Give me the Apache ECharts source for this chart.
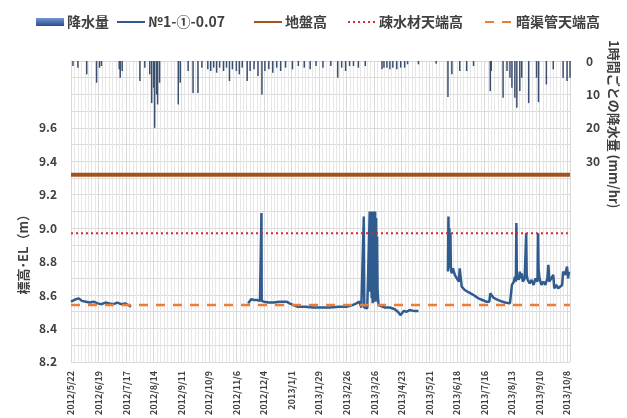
<!DOCTYPE html>
<html>
<head>
<meta charset="utf-8">
<script src="https://cdn.jsdelivr.net/npm/echarts@6/dist/echarts.min.js"></script>
<style>
  html, body { margin: 0; padding: 0; background: #fff; }
  #chart { width: 627px; height: 418px; }
</style>
</head>
<body>
<div id="chart"></div>
<script>
// Observation period and date ticks (every 28 days from the first day)
const startDate = '2012/5/22';
const endDate = '2013/10/11';
const tickStepDays = 28;

// Hourly rainfall peaks (mm/hr)
const rainDates = [
  '2012/5/24', '2012/5/29', '2012/6/7', '2012/6/17', '2012/6/20', '2012/6/22',
  '2012/7/10', '2012/7/11', '2012/7/13', '2012/7/31', '2012/8/5', '2012/8/10',
  '2012/8/12', '2012/8/14', '2012/8/15', '2012/8/17', '2012/8/18', '2012/8/20',
  '2012/9/8', '2012/9/10', '2012/9/18', '2012/9/23', '2012/9/28', '2012/10/2',
  '2012/10/8', '2012/10/11', '2012/10/14', '2012/10/17', '2012/10/20', '2012/10/24',
  '2012/10/27', '2012/10/30', '2012/11/2', '2012/11/6', '2012/11/9', '2012/11/12',
  '2012/11/17', '2012/11/20', '2012/11/24', '2012/11/28', '2012/12/2', '2012/12/5',
  '2012/12/9', '2012/12/13', '2012/12/17', '2012/12/21', '2012/12/26', '2013/1/2',
  '2013/1/8', '2013/1/14', '2013/1/20', '2013/1/26', '2013/2/2', '2013/2/10',
  '2013/2/17', '2013/2/21', '2013/2/25', '2013/3/1', '2013/3/5', '2013/3/10',
  '2013/3/17', '2013/4/3', '2013/4/5', '2013/4/8', '2013/4/11', '2013/4/14',
  '2013/4/18', '2013/4/22', '2013/4/26', '2013/4/29', '2013/5/10', '2013/5/28',
  '2013/6/9', '2013/6/13', '2013/6/21', '2013/6/28', '2013/7/5', '2013/7/22',
  '2013/7/23', '2013/8/4', '2013/8/8', '2013/8/11', '2013/8/13', '2013/8/16',
  '2013/8/18', '2013/8/21', '2013/8/23', '2013/8/30', '2013/9/7', '2013/9/9',
  '2013/9/17', '2013/9/24', '2013/10/4', '2013/10/8', '2013/10/11'
];
const rainValues = [
  1.5, 2, 4, 6.5, 2, 1.5,
  2.5, 5, 3, 6, 2, 4,
  12.6, 8, 20, 10, 13, 6.5,
  13, 6.5, 3, 9.6, 9.6, 2,
  2.5, 3, 2, 3.5, 2, 3,
  2, 6, 2.5, 3, 4, 2,
  6, 3, 2.5, 4.5, 10, 3,
  2.5, 3.5, 2, 3, 2, 2.5,
  1.5, 2, 2.5, 1.5, 2, 1.5,
  5, 2, 3, 1.5, 1.5, 2,
  1.5, 2.5, 2, 2, 2.5, 2,
  2.5, 2, 2, 1, 1, 0.8,
  10.8, 4, 3, 3, 1.5, 9,
  3, 11, 3, 5, 8, 11,
  14, 9, 5, 12.6, 5, 12.3,
  7, 2.5, 5, 6, 5
];

// Groundwater level at observation well No.1-(1)-0.07 (EL m); null marks gaps
const levelDates = [
  '2012/5/22', '2012/5/24', '2012/5/27', '2012/5/30', '2012/6/2', '2012/6/6',
  '2012/6/10', '2012/6/14', '2012/6/18', '2012/6/22', '2012/6/26', '2012/6/30',
  '2012/7/4', '2012/7/8', '2012/7/12', '2012/7/16', '2012/7/19', '2012/7/22',
  '2012/8/1',
  '2012/11/18', '2012/11/21', '2012/11/24', '2012/11/27', '2012/11/30', '2012/12/1 06',
  '2012/12/1 12', '2012/12/1 18', '2012/12/4', '2012/12/9', '2012/12/14', '2012/12/20',
  '2012/12/27', '2012/12/30', '2013/1/3', '2013/1/7', '2013/1/15', '2013/1/23',
  '2013/2/1', '2013/2/9', '2013/2/18', '2013/2/26', '2013/3/4', '2013/3/8',
  '2013/3/11', '2013/3/13', '2013/3/15', '2013/3/15 12', '2013/3/16', '2013/3/19',
  '2013/3/21', '2013/3/21 12', '2013/3/22', '2013/3/23', '2013/3/23 12', '2013/3/24',
  '2013/3/24 12', '2013/3/25', '2013/3/25 12', '2013/3/26', '2013/3/26 12', '2013/3/27',
  '2013/3/27 12', '2013/3/28', '2013/3/28 12', '2013/3/29', '2013/3/29 12', '2013/3/30',
  '2013/3/30 12', '2013/4/1', '2013/4/6', '2013/4/11', '2013/4/16', '2013/4/19',
  '2013/4/22', '2013/4/25', '2013/4/28', '2013/5/1', '2013/5/5', '2013/5/10',
  '2013/5/20',
  '2013/6/9', '2013/6/9 12', '2013/6/10', '2013/6/10 12', '2013/6/11', '2013/6/11 12',
  '2013/6/12', '2013/6/13', '2013/6/14', '2013/6/16', '2013/6/18', '2013/6/20',
  '2013/6/21', '2013/6/22', '2013/6/23', '2013/6/26', '2013/6/28', '2013/7/2',
  '2013/7/5', '2013/7/10', '2013/7/14', '2013/7/18', '2013/7/21', '2013/7/22',
  '2013/7/25', '2013/7/28', '2013/8/1', '2013/8/6', '2013/8/11', '2013/8/13',
  '2013/8/15', '2013/8/16', '2013/8/17', '2013/8/17 12', '2013/8/18', '2013/8/19',
  '2013/8/20', '2013/8/21', '2013/8/22', '2013/8/23', '2013/8/24', '2013/8/26',
  '2013/8/27', '2013/8/27 12', '2013/8/28', '2013/8/29', '2013/8/31', '2013/9/2',
  '2013/9/4', '2013/9/6', '2013/9/8', '2013/9/8 12', '2013/9/9', '2013/9/10',
  '2013/9/12', '2013/9/14', '2013/9/16', '2013/9/18', '2013/9/19', '2013/9/20',
  '2013/9/22', '2013/9/24', '2013/9/25', '2013/9/27', '2013/9/29', '2013/10/1',
  '2013/10/3', '2013/10/4', '2013/10/6', '2013/10/8', '2013/10/9', '2013/10/10'
];
const levelValues = [
  8.56, 8.57, 8.575, 8.58, 8.565, 8.56,
  8.555, 8.56, 8.55, 8.545, 8.555, 8.55,
  8.545, 8.555, 8.545, 8.55, 8.54, 8.53,
  null,
  8.55, 8.575, 8.57, 8.57, 8.565, 8.565,
  9.09, 8.565, 8.56, 8.555, 8.555, 8.56,
  8.56, 8.55, 8.54, 8.53, 8.53, 8.525,
  8.525, 8.525, 8.53, 8.53, 8.54, 8.55,
  8.56, 8.525, 8.525, 9.07, 8.525, 8.52,
  8.53, 9.10, 8.62, 9.10, 8.58, 9.10,
  8.55, 9.08, 8.56, 9.10, 8.60, 9.10,
  8.56, 9.06, 8.57, 8.95, 8.62, 8.62,
  8.54, 8.53, 8.525, 8.525, 8.515, 8.50,
  8.48, 8.505, 8.50, 8.51, 8.505, 8.505,
  null,
  8.74, 9.07, 8.78, 9.00, 8.76, 8.97,
  8.75, 8.73, 8.76, 8.72, 8.70, 8.68,
  8.76, 8.70, 8.65, 8.63, 8.62, 8.61,
  8.60, 8.58, 8.57, 8.56, 8.56, 8.61,
  8.585, 8.575, 8.565, 8.555, 8.55, 8.66,
  8.68, 8.71, 8.68, 9.03, 8.69, 8.72,
  8.69, 8.74, 8.70, 8.73, 8.68, 8.70,
  8.69, 8.97, 8.72, 8.69, 8.67, 8.69,
  8.66, 8.70, 8.68, 8.97, 8.76, 8.70,
  8.66, 8.68, 8.66, 8.70, 8.78, 8.68,
  8.70, 8.72, 8.64, 8.66, 8.64, 8.63,
  8.66, 8.74, 8.72, 8.77, 8.70, 8.74
];

// Reference elevations (EL m)
const groundLevel = 9.32;       // 地盤高
const filterTopLevel = 8.97;    // 疎水材天端高
const drainPipeTopLevel = 8.54; // 暗渠管天端高

// Left and right axis label ranges
const levelAxis = { min: 8.2, max: 10.0, step: 0.2, lastLabel: 9.6 };
const rainAxis = { min: 0, max: 90, step: 10, lastLabel: 30 };

const seriesNames = ['降水量', '№1-①-0.07', '地盤高', '疎水材天端高', '暗渠管天端高'];

// ---- helpers -------------------------------------------------------------
function parseDate(s) {
  const [d, h] = s.split(' ');
  const [y, m, day] = d.split('/').map(Number);
  return Date.UTC(y, m - 1, day, h ? Number(h) : 0);
}
const t0 = parseDate(startDate);
function dayOf(s) { return (parseDate(s) - t0) / 86400000; }
function dateLabel(dayIndex) {
  const dt = new Date(t0 + dayIndex * 86400000);
  return dt.getUTCFullYear() + '/' + (dt.getUTCMonth() + 1) + '/' + dt.getUTCDate();
}
const xMax = dayOf(endDate);

const rainData = rainDates.map((d, i) => [dayOf(d), rainValues[i]]);
const levelData = levelDates.map((d, i) => [dayOf(d), levelValues[i]]);
const flat = v => [[0, v], [xMax, v]];

const FONT = '"Noto Sans CJK JP", "Noto Sans", sans-serif';
const GRID_COLOR = '#d9d9d9';
const TEXT_COLOR = '#404040';

const chart = echarts.init(document.getElementById('chart'), null, { renderer: 'canvas' });

// One legend block per entry so each can sit at its own position
function legendAt(left, item) {
  return {
    left: left, top: 10,
    itemWidth: 28, itemHeight: 8, itemGap: 0,
    selectedMode: false,
    textStyle: { fontFamily: FONT, fontWeight: 'bold', fontSize: 14, color: TEXT_COLOR, padding: [0, 0, 0, -2] },
    data: [item]
  };
}
// line entries: keep the line, hide the marker dot
const lineOnly = name => ({ name: name, itemStyle: { color: 'rgba(0,0,0,0)', borderWidth: 0, opacity: 0 } });

chart.setOption({
  animation: false,
  backgroundColor: '#ffffff',
  legend: [
    legendAt(31, { name: seriesNames[0], icon: 'rect',
      itemStyle: { color: new echarts.graphic.LinearGradient(0, 0, 0, 1, [
        { offset: 0, color: '#7196d2' }, { offset: 1, color: '#2a4e8e' }]) } }),
    legendAt(111, lineOnly(seriesNames[1])),
    legendAt(248, lineOnly(seriesNames[2])),
    legendAt(342, lineOnly(seriesNames[3])),
    legendAt(479, lineOnly(seriesNames[4]))
  ],
  grid: { left: 71, right: 57, top: 61, height: 301, containLabel: false },
  xAxis: {
    type: 'value',
    min: 0,
    max: xMax,
    interval: tickStepDays,
    axisLine: { show: true, lineStyle: { color: GRID_COLOR } },
    axisTick: { show: false },
    splitLine: { show: true, lineStyle: { color: GRID_COLOR, width: 1 } },
    minorTick: { show: false, splitNumber: 8 },
    minorSplitLine: { show: true, lineStyle: { color: '#e6e6e6', width: 1 } },
    axisLabel: {
      rotate: 90,
      margin: 9,
      fontFamily: FONT,
      fontWeight: 'bold',
      fontSize: 9,
      color: TEXT_COLOR,
      showMaxLabel: false,
      formatter: v => (Math.round(v) % tickStepDays === 0 ? dateLabel(Math.round(v)) : '')
    }
  },
  yAxis: [
    {
      type: 'value',
      min: levelAxis.min,
      max: levelAxis.max,
      interval: levelAxis.step,
      axisLine: { show: true, lineStyle: { color: GRID_COLOR } },
      axisTick: { show: false },
      splitLine: { show: true, lineStyle: { color: GRID_COLOR } },
      minorTick: { show: false, splitNumber: 2 },
      minorSplitLine: { show: true, lineStyle: { color: GRID_COLOR } },
      axisLabel: {
        margin: 14,
        fontFamily: FONT, fontWeight: 'bold', fontSize: 12, color: TEXT_COLOR,
        formatter: v => (v <= levelAxis.lastLabel + 1e-9 ? v.toFixed(1) : '')
      }
    },
    {
      type: 'value',
      min: rainAxis.min,
      max: rainAxis.max,
      interval: rainAxis.step,
      inverse: true,
      position: 'right',
      axisLine: { show: true, lineStyle: { color: GRID_COLOR } },
      axisTick: { show: false },
      splitLine: { show: false },
      axisLabel: {
        margin: 16,
        fontFamily: FONT, fontWeight: 'bold', fontSize: 12, color: TEXT_COLOR,
        formatter: v => (v <= rainAxis.lastLabel ? String(v) : '')
      }
    }
  ],
  graphic: [
    {
      type: 'text', left: 17, top: 208, rotation: Math.PI / 2,
      style: { text: '標高･EL（m）', font: 'bold 13px ' + FONT, fill: TEXT_COLOR }
    },
    {
      type: 'text', left: 607, top: 40, rotation: -Math.PI / 2,
      style: { text: '1時間ごとの降水量 (mm/hr)', font: 'bold 13px ' + FONT, fill: TEXT_COLOR }
    }
  ],
  series: [
    {
      name: seriesNames[0],
      type: 'bar',
      yAxisIndex: 1,
      barWidth: 1.5,
      itemStyle: { color: '#3b4f6e' },
      data: rainData
    },
    {
      name: seriesNames[1],
      type: 'line',
      yAxisIndex: 0,
      symbol: 'none',
      connectNulls: false,
      lineStyle: { color: '#2f5b8f', width: 2.5 },
      itemStyle: { color: '#2f5b8f' },
      data: levelData
    },
    {
      name: seriesNames[2],
      type: 'line',
      symbol: 'none',
      lineStyle: { color: '#a3521c', width: 4 },
      itemStyle: { color: '#a3521c' },
      data: flat(groundLevel)
    },
    {
      name: seriesNames[3],
      type: 'line',
      symbol: 'none',
      lineStyle: { color: '#e0252b', width: 2, type: [2, 3] },
      itemStyle: { color: '#e0252b' },
      data: flat(filterTopLevel)
    },
    {
      name: seriesNames[4],
      type: 'line',
      symbol: 'none',
      lineStyle: { color: '#ed7d31', width: 2.5, type: [9, 8] },
      itemStyle: { color: '#ed7d31' },
      data: flat(drainPipeTopLevel)
    }
  ]
});
</script>
</body>
</html>
